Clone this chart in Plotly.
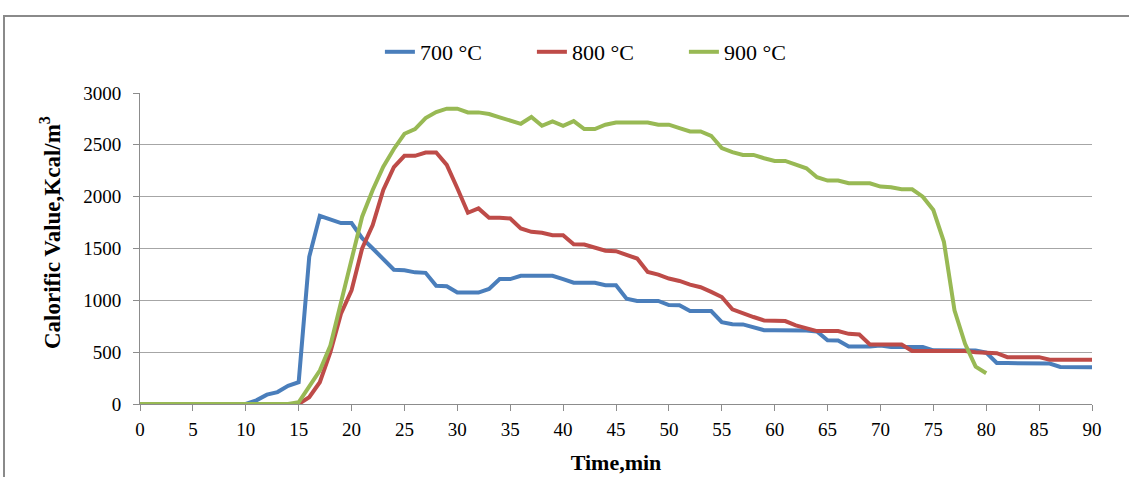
import plotly.graph_objects as go

time_700 = list(range(0, 91))
cv_700 = [0, 0, 0, 0, 0, 0, 0, 0, 0, 0,
          0, 35, 90, 115, 175, 210, 1420, 1815, 1780, 1745,
          1745, 1600, 1500, 1400, 1295, 1290, 1270, 1265, 1140, 1136,
          1075, 1075, 1075, 1110, 1205, 1205, 1236, 1236, 1236, 1236,
          1205, 1170, 1170, 1170, 1145, 1145, 1016, 994, 994, 994,
          955, 952, 897, 897, 897, 790, 770, 768, 735, 712,
          712, 712, 712, 710, 700, 615, 613, 555, 555, 555,
          565, 550, 550, 550, 550, 518, 516, 516, 516, 516,
          495, 395, 395, 395, 395, 395, 390, 358, 355, 355, 355]

time_800 = list(range(0, 91))
cv_800 = [0, 0, 0, 0, 0, 0, 0, 0, 0, 0,
          0, 0, 0, 0, 0, 0, 65, 210, 500, 871,
          1097, 1500, 1726, 2065, 2284, 2394, 2394, 2426, 2426, 2307,
          2081, 1845, 1887, 1797, 1797, 1790, 1694, 1661, 1652, 1629,
          1629, 1542, 1539, 1507, 1478, 1474, 1436, 1403, 1274, 1248,
          1210, 1187, 1152, 1126, 1081, 1032, 913, 881, 839, 806,
          800, 800, 758, 726, 703, 703, 703, 677, 671, 574,
          574, 574, 574, 512, 512, 512, 512, 512, 512, 500,
          495, 490, 452, 452, 452, 452, 428, 428, 428, 428, 428]

time_900 = list(range(0, 81))
cv_900 = [0, 0, 0, 0, 0, 0, 0, 0, 0, 0,
          0, 0, 0, 0, 0, 16, 168, 323, 565, 968,
          1387, 1807, 2065, 2290, 2460, 2607, 2652, 2758, 2816, 2849,
          2849, 2813, 2813, 2797, 2765, 2736, 2703, 2768, 2684, 2726,
          2684, 2729, 2652, 2652, 2694, 2716, 2716, 2716, 2716, 2694,
          2694, 2661, 2629, 2629, 2587, 2468, 2429, 2403, 2403, 2371,
          2345, 2345, 2313, 2274, 2187, 2155, 2155, 2129, 2129, 2129,
          2097, 2090, 2071, 2071, 2000, 1871, 1565, 903, 581, 361, 297]

x_ticks = list(range(0, 91, 5))
y_ticks = list(range(0, 3001, 500))

series = [
    ("700 \u00b0C", time_700, cv_700, "#4A7EBB"),
    ("800 \u00b0C", time_800, cv_800, "#BE4B48"),
    ("900 \u00b0C", time_900, cv_900, "#98B954"),
]

fig = go.Figure()
for name, xs, ys, col in series:
    fig.add_trace(go.Scatter(x=xs, y=ys, mode="lines", name=name,
                             line=dict(color=col, width=4)))

font_family = "Liberation Serif, Times New Roman, serif"

fig.update_layout(
    width=1129, height=477,
    margin=dict(l=140, r=37, t=93, b=73, autoexpand=False),
    paper_bgcolor="white", plot_bgcolor="white",
    font=dict(family=font_family, size=19, color="black"),
    showlegend=True,
    legend=dict(orientation="h", x=0.252, xanchor="left",
                y=(404 - 52) / 311, yanchor="middle",
                font=dict(family=font_family, size=22, color="black"),
                itemwidth=30, entrywidth=107, bgcolor="rgba(0,0,0,0)"),
    xaxis=dict(range=[0, 90], tickvals=x_ticks, ticktext=[str(v) for v in x_ticks],
               showgrid=False, zeroline=False, showline=True, linecolor="#8c8c8c", linewidth=1,
               ticks="outside", ticklen=6, tickcolor="#8c8c8c", ticklabelstandoff=2,
               tickfont=dict(family=font_family, size=19),
               title=dict(text="<b>Time,min</b>", font=dict(family=font_family, size=22), standoff=15)),
    yaxis=dict(range=[0, 3000], tickvals=y_ticks, ticktext=[str(v) for v in y_ticks],
               showgrid=True, gridcolor="#a6a6a6", gridwidth=1, zeroline=False,
               showline=True, linecolor="#8c8c8c", linewidth=1,
               ticks="outside", ticklen=6, tickcolor="#8c8c8c", ticklabelstandoff=8,
               tickfont=dict(family=font_family, size=19)),
)

# y-axis title placed as annotation (reference sits slightly above plot centre)
fig.add_annotation(text="<b>Calorific Value,Kcal/m<sup>3</sup></b>",
                   xref="paper", yref="paper",
                   x=(50 - 140) / 952, y=(404 - 233) / 311,
                   xanchor="center", yanchor="middle", textangle=-90, showarrow=False,
                   font=dict(family=font_family, size=23, color="black"))

# outer chart frame
fig.add_shape(type="rect", xref="paper", yref="paper",
              x0=(4 - 140) / 952, x1=(1135 - 140) / 952,
              y0=(404 - 485) / 311, y1=(404 - 16) / 311,
              line=dict(color="#8a8a8a", width=2), fillcolor="rgba(0,0,0,0)", layer="below")

fig.write_html("out.html", config={"displayModeBar": False},
               post_script="document.body.style.margin='0';")
